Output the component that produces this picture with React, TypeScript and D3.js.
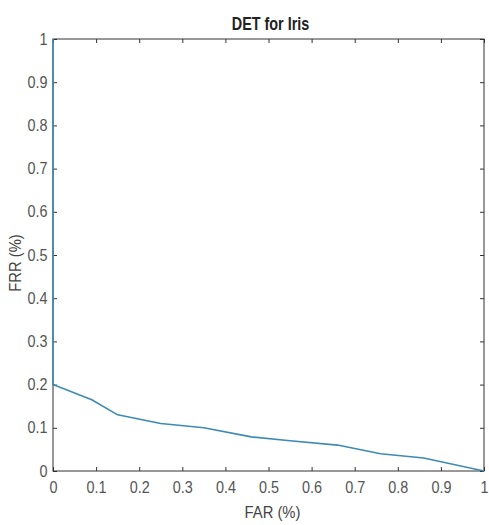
import React, { useRef, useEffect } from 'react';
import * as d3 from 'd3';

// DET curve values
const far = [0, 0, 0.09, 0.15, 0.25, 0.35, 0.46, 0.55, 0.66, 0.76, 0.86, 1.0];
const frr = [1, 0.2, 0.165, 0.13, 0.11, 0.1, 0.079, 0.07, 0.06, 0.04, 0.03, 0];
const xTicks = [0, 0.1, 0.2, 0.3, 0.4, 0.5, 0.6, 0.7, 0.8, 0.9, 1];
const yTicks = [0, 0.1, 0.2, 0.3, 0.4, 0.5, 0.6, 0.7, 0.8, 0.9, 1];

const titleText = 'DET for Iris';
const xLabel = 'FAR (%)';
const yLabel = 'FRR (%)';

const W = 489;
const H = 525;

const App: React.FC = () => {
  const svgRef = useRef<SVGSVGElement | null>(null);

  useEffect(() => {
    const svg = d3.select(svgRef.current);
    svg.selectAll('*').remove();

    const margin = { top: 39, right: 5, bottom: 54, left: 53 };
    const width = W - margin.left - margin.right;
    const height = H - margin.top - margin.bottom;
    const font = '"Liberation Sans", Arial, Helvetica, sans-serif';

    const x = d3.scaleLinear().domain([0, 1]).range([0, width]);
    const y = d3.scaleLinear().domain([0, 1]).range([height, 0]);

    const g = svg.append('g')
      .attr('transform', `translate(${margin.left},${margin.top})`);

    const styleAxis = (sel: d3.Selection<SVGGElement, unknown, null, undefined>) => {
      sel.select('.domain').remove();
      sel.selectAll('.tick line').attr('stroke', '#333').attr('stroke-width', 1);
      sel.selectAll('.tick text')
        .attr('fill', '#555')
        .style('font-family', font)
        .style('font-size', '16px');
    };

    // bottom axis with labels, ticks pointing inward
    const bx = g.append('g')
      .attr('transform', `translate(0,${height})`)
      .call(d3.axisBottom(x).tickValues(xTicks).tickSizeInner(-4).tickSizeOuter(0).tickPadding(11)
        .tickFormat(d => d3.format('~g')(d as number)));
    styleAxis(bx);
    bx.selectAll('.tick text').attr('transform', 'scale(0.9,1)');

    const ly = g.append('g')
      .call(d3.axisLeft(y).tickValues(yTicks).tickSizeInner(-4).tickSizeOuter(0).tickPadding(6)
        .tickFormat(d => d3.format('~g')(d as number)));
    styleAxis(ly);
    ly.selectAll('.tick text').attr('transform', 'scale(0.9,1)');

    // mirrored ticks on top and right
    const tx = g.append('g')
      .call(d3.axisTop(x).tickValues(xTicks).tickSizeInner(-4).tickSizeOuter(0).tickFormat(() => ''));
    styleAxis(tx);
    const ry = g.append('g')
      .attr('transform', `translate(${width},0)`)
      .call(d3.axisRight(y).tickValues(yTicks).tickSizeInner(-4).tickSizeOuter(0).tickFormat(() => ''));
    styleAxis(ry);

    // box
    g.append('rect')
      .attr('x', 0)
      .attr('y', 0)
      .attr('width', width)
      .attr('height', height)
      .attr('fill', 'none')
      .attr('stroke', '#333')
      .attr('stroke-width', 1);

    // curve
    const pts = far.map((v, i) => [v, frr[i]] as [number, number]);
    const line = d3.line<[number, number]>()
      .x(d => x(d[0]))
      .y(d => y(d[1]));

    g.append('path')
      .datum(pts)
      .attr('fill', 'none')
      .attr('stroke', '#3d8bb5')
      .attr('stroke-width', 1.6)
      .attr('stroke-linejoin', 'round')
      .attr('d', line);

    // title
    g.append('text')
      .attr('transform', `translate(${width / 2 + 2},${-9}) scale(0.8,1)`)
      .attr('text-anchor', 'middle')
      .attr('fill', '#222')
      .style('font-family', font)
      .style('font-size', '18px')
      .style('font-weight', 'bold')
      .text(titleText);

    // axis labels
    g.append('text')
      .attr('transform', `translate(${width / 2 + 4},${height + 47}) scale(0.87,1)`)
      .attr('text-anchor', 'middle')
      .attr('fill', '#444')
      .style('font-family', font)
      .style('font-size', '17px')
      .text(xLabel);

    g.append('text')
      .attr('transform', `translate(${-32},${height / 2 + 8}) rotate(-90) scale(0.87,1)`)
      .attr('text-anchor', 'middle')
      .attr('fill', '#444')
      .style('font-family', font)
      .style('font-size', '17px')
      .text(yLabel);
  }, []);

  return (
    <svg
      ref={svgRef}
      width={W}
      height={H}
      style={{ position: 'absolute', left: 0, top: 0, background: 'white' }}
    />
  );
};

export default App;
